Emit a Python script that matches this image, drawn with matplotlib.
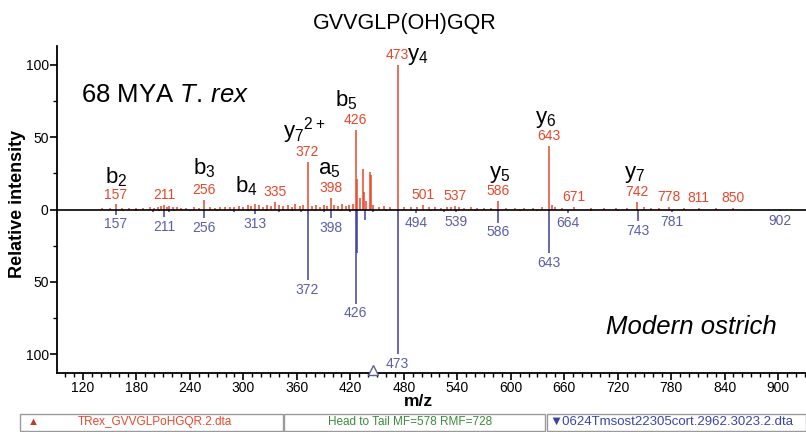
import matplotlib
matplotlib.use("Agg")
import matplotlib.pyplot as plt
from matplotlib.patches import Rectangle
from matplotlib.ticker import MultipleLocator, FuncFormatter

plt.rcParams["font.family"] = ["Liberation Sans", "DejaVu Sans"]
plt.rcParams["mathtext.fontset"] = "custom"
plt.rcParams["mathtext.rm"] = "Liberation Sans"
plt.rcParams["mathtext.it"] = "Liberation Sans:italic"

# T. rex spectrum (top, red)
trex_mz = [141, 150, 157, 164, 172, 180, 187, 195, 200, 204, 208, 211, 214, 217,
           221, 225, 230, 236, 244, 250, 256, 262, 268, 274, 279, 285, 290, 295,
           300, 305, 309, 313, 318, 322, 327, 331, 335, 340, 345, 350, 354, 358,
           363, 367, 372, 377, 382, 386, 390, 394, 398, 402, 406, 411, 415, 419,
           423, 426, 428, 431, 434, 435, 438, 442, 443, 446, 452, 458, 465, 473,
           480, 488, 495, 501, 508, 515, 522, 528, 533, 537, 542, 548, 555, 562,
           570, 578, 586, 595, 605, 615, 625, 635, 643, 646, 650, 657, 671, 690,
           705, 718, 730, 742, 750, 758, 766, 778, 795, 811, 830, 850, 870]
trex_int = [0.8, 1.0, 3.5, 1.0, 0.8, 1.2, 1.0, 1.5, 1.0, 2.0, 2.5, 3.0, 2.0, 2.5,
            1.5, 2.0, 1.2, 1.0, 1.5, 1.0, 6.5, 1.5, 1.2, 2.0, 1.5, 2.0, 1.5, 2.5,
            2.0, 3.0, 2.5, 4.0, 3.0, 2.0, 3.0, 2.5, 5.0, 3.0, 2.5, 3.0, 2.0, 4.0,
            2.5, 3.0, 33, 2.5, 3.0, 2.0, 3.0, 2.5, 8.0, 3.0, 2.5, 3.5, 2.5, 3.0,
            4.0, 55, 21, 8.0, 28, 12, 6.0, 26, 24, 3.0, 2.0, 2.5, 2.0, 100,
            1.5, 2.0, 1.5, 3.0, 1.5, 2.0, 1.0, 2.0, 1.5, 2.5, 1.5, 1.2, 1.5, 1.0,
            1.2, 1.0, 6.0, 1.0, 1.2, 1.0, 1.0, 1.5, 44, 3.0, 1.5, 1.0, 2.0, 1.0,
            1.0, 1.2, 1.0, 5.0, 1.5, 1.0, 1.2, 1.5, 0.8, 1.2, 0.8, 1.2, 0.6]
trex_labels = [157, 211, 256, 335, 372, 398, 426, 473, 501, 537, 586, 643,
               671, 742, 778, 811, 850]

# modern ostrich spectrum (bottom, blue, mirrored)
ost_mz = [140, 157, 165, 180, 198, 205, 211, 216, 222, 240, 256, 270, 290, 305,
          313, 325, 340, 355, 365, 372, 380, 390, 398, 410, 420, 426, 427, 436,
          445, 460, 473, 494, 510, 525, 539, 560, 586, 610, 630, 643, 664, 690,
          720, 743, 781, 902]
ost_int = [0.5, 3.5, 1.0, 0.8, 1.5, 1.0, 5.0, 1.5, 1.0, 0.8, 6.0, 1.0, 1.5, 1.0,
           3.0, 1.0, 1.5, 1.0, 1.5, 49, 1.0, 1.5, 6.0, 1.0, 2.0, 65, 30, 7.0,
           1.5, 1.0, 100, 2.5, 1.0, 1.5, 2.0, 1.0, 9.0, 1.0, 1.0, 30, 2.5, 1.0,
           1.0, 8.0, 1.5, 1.0]
ost_labels = [157, 211, 256, 313, 372, 398, 426, 473, 494, 539, 586, 643,
              664, 743, 781, 902]

# fragment ion assignments on the T. rex spectrum
ion_names = ["b$_2$", "b$_3$", "b$_4$", "y$_7$$^{2+}$", "a$_5$", "b$_5$",
             "y$_4$", "y$_5$", "y$_6$", "y$_7$"]
ion_mz = [157, 256, 313, 372, 398, 426, 473, 586, 643, 742]

RED = "#e8472b"
BLUE = "#3c3f9c"
BLUE_TXT = "#5a5ea8"

fig = plt.figure(figsize=(8.06, 4.32), dpi=100)
ax = fig.add_axes([57 / 806, 1 - 373 / 432, 1 - 57 / 806, (373 - 46) / 432])

ax.vlines(trex_mz, 0, trex_int, color=RED, lw=1.1)
ax.vlines(ost_mz, 0, [-v for v in ost_int], color=BLUE, lw=1.1)
ax.axhline(0, color="black", lw=1.2)

for mz in trex_labels:
    h = trex_int[trex_mz.index(mz)]
    ax.text(mz, h + 2, str(mz), color=RED, fontsize=10, ha="center", va="bottom")
for mz in ost_labels:
    h = ost_int[ost_mz.index(mz)]
    ax.text(mz, -h - 2, str(mz), color=BLUE_TXT, fontsize=10, ha="center", va="top")

# ion label placement: (dx, baseline y) in data units
ion_pos = {"b$_2$": (0, 18), "b$_3$": (0, 24), "b$_4$": (-10, 12),
           "y$_7$$^{2+}$": (-4, 50), "a$_5$": (-2, 24), "b$_5$": (-10, 71),
           "y$_4$": (23, 103), "y$_5$": (2, 22), "y$_6$": (-4, 60), "y$_7$": (-3, 22)}
for name, mz in zip(ion_names, ion_mz):
    dx, y = ion_pos[name]
    ax.text(mz + dx, y, name, fontsize=16, ha="center", va="baseline")

# precursor marker
ax.plot([446], [-111], marker="^", ms=7, mfc="white", mec=BLUE_TXT, mew=1,
        clip_on=False, zorder=5)

ax.text(118, 79, "68 MYA $\\mathit{T.\\,rex}$", fontsize=18.5, va="center", ha="left")
ax.text(899, -81, "Modern ostrich", fontsize=18.5, style="italic", va="center", ha="right")

ax.set_xlim(90.8, 931.4)
ax.set_ylim(-113, 113)
ax.xaxis.set_major_locator(MultipleLocator(60))
ax.xaxis.set_minor_locator(MultipleLocator(10))
ax.set_yticks([-100, -50, 0, 50, 100])
ax.yaxis.set_minor_locator(MultipleLocator(25))
ax.yaxis.set_major_formatter(FuncFormatter(lambda v, p: f"{abs(v):.0f}"))
ax.tick_params(which="major", length=5, width=1.2, labelsize=10, pad=1)
ax.tick_params(which="minor", length=3, width=1)
ax.spines["top"].set_visible(False)
ax.spines["right"].set_visible(False)
ax.spines["left"].set_linewidth(1.3)
ax.spines["bottom"].set_linewidth(1.3)
ax.patch.set_alpha(0)

fig.text(18 / 806, 1 - 204 / 432, "Relative intensity", rotation=90, fontsize=13,
         fontweight="bold", ha="center", va="center")
fig.text(418 / 806, 1 - 402 / 432, "m/z", fontsize=12.5, fontweight="bold",
         ha="center", va="center")
fig.text(405 / 806, 1 - 24 / 432, "GVVGLP(OH)GQR", fontsize=15.5, ha="center", va="center")

# status bar boxes along the bottom
boxes = [(20, 283), (284, 545), (547, 806)]
for x0, x1 in boxes:
    fig.patches.append(Rectangle((x0 / 806, 1 - 431 / 432), (x1 - x0) / 806, 17 / 432,
                                 transform=fig.transFigure, fc="white", ec="#9a9a9a",
                                 lw=1))
fig.text(33 / 806, 1 - 422 / 432, "\u25b2", color="#c0392b", fontsize=8,
         ha="center", va="center")
fig.text(155 / 806, 1 - 422 / 432, "TRex_GVVGLPoHGQR.2.dta", color=RED, fontsize=8.5,
         ha="center", va="center")
fig.text(410 / 806, 1 - 422 / 432, "Head to Tail MF=578 RMF=728", color="#3b8a3b",
         fontsize=8.5, ha="center", va="center")
fig.text(549 / 806, 1 - 422 / 432, "\u25bc0624Tmsost22305cort.2962.3023.2.dta",
         color="#3a44a8", fontsize=9.5, ha="left", va="center")

fig.savefig("out.png", dpi=100)
